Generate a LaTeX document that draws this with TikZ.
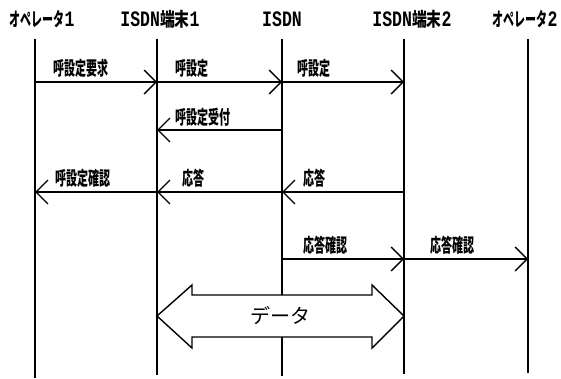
\documentclass[tikz,border=0pt]{standalone}
\usepackage{fontspec}
\usepackage{graphicx}
\newfontfamily\jp{Noto Sans CJK JP}
\newfontfamily\mono{Liberation Mono}
\usetikzlibrary{arrows.meta}
\newcommand\hx[2]{\scalebox{#1}[1]{#2}}
\begin{document}
\begin{tikzpicture}[x=1pt,y=-1pt,
  life/.style={line width=1.8pt},
  msg/.style={line width=1.4pt,-{Straight Barb[length=12pt,width=24pt,line width=1.4pt]}},
  head/.style={inner sep=0pt,font=\bfseries},
  lbl/.style={inner sep=0pt,anchor=west,font=\jp\bfseries\fontsize{19}{19}\selectfont},
  bigarrow/.style={line width=1.4pt,fill=white}]
\useasboundingbox (0,0) rectangle (561,379);
% headers
\node[head] (h1) at (42,19) {\hx{0.58}{\jp\fontsize{19}{19}\selectfont オペレータ}\hx{0.75}{\mono\fontsize{22}{22}\selectfont 1}};
\node[head] (h2) at (160,19) {\hx{0.75}{\mono\fontsize{22}{22}\selectfont ISDN}\hx{0.78}{\jp\fontsize{19}{19}\selectfont 端末}\hx{0.75}{\mono\fontsize{22}{22}\selectfont 1}};
\node[head] (h3) at (282,19) {\hx{0.75}{\mono\fontsize{22}{22}\selectfont ISDN}};
\node[head] (h4) at (412,19) {\hx{0.75}{\mono\fontsize{22}{22}\selectfont ISDN}\hx{0.78}{\jp\fontsize{19}{19}\selectfont 端末}\hx{0.75}{\mono\fontsize{22}{22}\selectfont 2}};
\node[head] (h5) at (525,19) {\hx{0.58}{\jp\fontsize{19}{19}\selectfont オペレータ}\hx{0.75}{\mono\fontsize{22}{22}\selectfont 2}};
% lifelines
\coordinate (t1) at (35,39);  \coordinate (b1) at (35,378);
\coordinate (t2) at (157,39); \coordinate (b2) at (157,375);
\coordinate (t3) at (282,39); \coordinate (b3) at (282,376);
\coordinate (t4) at (404,39); \coordinate (b4) at (404,374);
\coordinate (t5) at (528,39); \coordinate (b5) at (528,373);
\foreach \i in {1,...,5} {\draw[life] (t\i) -- (b\i);}
% message levels
\coordinate (m1) at (0,82);
\coordinate (m2) at (0,130);
\coordinate (m3) at (0,192);
\coordinate (m4) at (0,259);
\draw[msg] (t1 |- m1) -- (t2 |- m1);
\draw[msg] (t2 |- m1) -- (t3 |- m1);
\draw[msg] (t3 |- m1) -- (t4 |- m1);
\draw[msg] (t3 |- m2) -- (t2 |- m2);
\draw[msg] (t2 |- m3) -- (t1 |- m3);
\draw[msg] (t3 |- m3) -- (t2 |- m3);
\draw[msg] (t4 |- m3) -- (t3 |- m3);
\draw[msg] (t3 |- m4) -- (t4 |- m4);
\draw[msg] (t4 |- m4) -- (t5 |- m4);
% labels
\node[lbl] (l1) at (53,68) {\hx{0.58}{呼設定要求}};
\node[lbl] (l2) at (175,68) {\hx{0.58}{呼設定}};
\node[lbl] (l3) at (297,68) {\hx{0.58}{呼設定}};
\node[lbl] (l4) at (175,117) {\hx{0.58}{呼設定受付}};
\node[lbl] (l5) at (55,178) {\hx{0.58}{呼設定確認}};
\node[lbl] (l6) at (182,178) {\hx{0.58}{応答}};
\node[lbl] (l7) at (303,178) {\hx{0.58}{応答}};
\node[lbl] (l8) at (303,245) {\hx{0.58}{応答確認}};
\node[lbl] (l9) at (430,245) {\hx{0.58}{応答確認}};
% data double arrow
\draw[bigarrow] (t2 |- 0,316) -- (192,285) -- (192,295) -- (372,295) -- (372,285) -- (t4 |- 0,316)
  -- (372,348) -- (372,337) -- (192,337) -- (192,348) -- cycle;
\node[inner sep=0pt,font=\jp\fontsize{20}{20}\selectfont] (data) at (280,316) {データ};
\end{tikzpicture}
\end{document}
